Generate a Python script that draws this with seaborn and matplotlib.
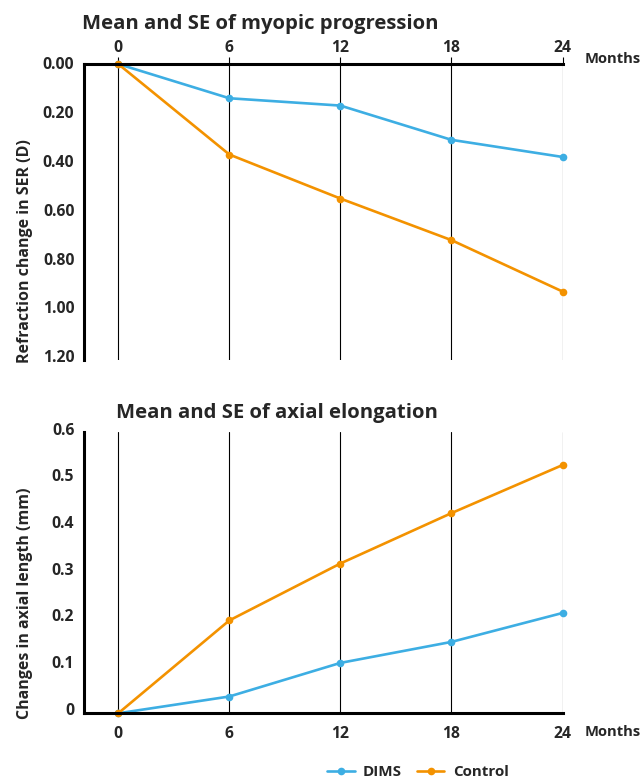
import matplotlib
matplotlib.use("Agg")
import matplotlib.pyplot as plt
import matplotlib.transforms as mtransforms
import numpy as np
import pandas as pd
import seaborn as sns

# Follow-up visits (months)
months = [0, 6, 12, 18, 24]
groups = ["DIMS", "Control"]

# Mean refraction change in SER (D), shown as positive magnitude
ser_dims = [0.00, 0.14, 0.17, 0.31, 0.38]
ser_control = [0.00, 0.37, 0.55, 0.72, 0.93]

# Mean change in axial length (mm)
al_dims = [0.00, 0.036, 0.108, 0.153, 0.215]
al_control = [0.00, 0.199, 0.321, 0.429, 0.532]

ser_ticks = [0.0, 0.2, 0.4, 0.6, 0.8, 1.0, 1.2]
ser_ticklabels = ["0.00", "0.20", "0.40", "0.60", "0.80", "1.00", "1.20"]
al_ticks = [0.0, 0.1, 0.2, 0.3, 0.4, 0.5, 0.6]
al_ticklabels = ["0", "0.1", "0.2", "0.3", "0.4", "0.5", "0.6"]

colors = {"DIMS": "#3DAEE3", "Control": "#F39200"}

sns.set_theme(style="white")
plt.rcParams["font.family"] = ["Open Sans", "DejaVu Sans"]
plt.rcParams["font.weight"] = "bold"

WEIGHT = "bold"

def long_frame(dims, control):
    return pd.DataFrame({
        "month": months * 2,
        "value": list(dims) + list(control),
        "group": ["DIMS"] * len(months) + ["Control"] * len(months),
    })

ser_df = long_frame(ser_dims, ser_control)
al_df = long_frame(al_dims, al_control)

W, H = 644, 780
fig = plt.figure(figsize=(W / 100, H / 100), dpi=100)

def px_rect(left, top, right, bottom):
    return [left / W, 1 - bottom / H, (right - left) / W, (bottom - top) / H]

ax1 = fig.add_axes(px_rect(84, 64, 562.5, 360))
ax2 = fig.add_axes(px_rect(84, 431.7, 562.5, 713.3))

line_kw = dict(x="month", y="value", hue="group", hue_order=groups,
               palette=colors, marker="o", markersize=5.5, markeredgewidth=0,
               linewidth=1.9, legend=True, clip_on=False)

sns.lineplot(data=ser_df, ax=ax1, **line_kw)
sns.lineplot(data=al_df, ax=ax2, **line_kw)

handles, labels = ax1.get_legend_handles_labels()
ax1.get_legend().remove()
ax2.get_legend().remove()

tick_fs = 11.3
for ax in (ax1, ax2):
    ax.set_xlim(-1.85, 24)
    ax.set_xticks(months)
    ax.set_xticklabels([str(m) for m in months])
    ax.grid(axis="x", color="black", linewidth=0.8)
    ax.grid(axis="y", visible=False)
    ax.set_xlabel("")
    ax.set_ylabel("")
    ax.tick_params(axis="x", length=5, width=0.8, color="black", pad=4,
                   labelsize=tick_fs)
    ax.tick_params(axis="y", length=0, pad=7, labelsize=tick_fs)
    for s in ax.spines.values():
        s.set_linewidth(2.2)
        s.set_color("black")
    ax.set_axisbelow(True)

# Upper panel: refraction, axis along the top, values growing downwards
ax1.set_ylim(1.21, 0)
ax1.set_yticks(ser_ticks)
ax1.set_yticklabels(ser_ticklabels)
ax1.xaxis.tick_top()
ax1.tick_params(axis="x", top=True, bottom=False, length=5, width=0.8, pad=1)
ax1.spines["right"].set_visible(False)
ax1.spines["bottom"].set_visible(False)

# Lower panel: axial length
ax2.set_ylim(0, 0.6035)
ax2.set_yticks(al_ticks)
ax2.set_yticklabels(al_ticklabels)
ax2.spines["right"].set_visible(False)
ax2.spines["top"].set_visible(False)

for lbl in ax2.get_yticklabels():
    lbl.set_transform(lbl.get_transform() +
                      mtransforms.ScaledTranslation(0, 4.5 / 100, fig.dpi_scale_trans))
for lbl in ax1.get_yticklabels():
    lbl.set_transform(lbl.get_transform() +
                      mtransforms.ScaledTranslation(0, 1.2 / 100, fig.dpi_scale_trans))

for lbl in ax1.get_xticklabels() + ax1.get_yticklabels() + \
        ax2.get_xticklabels() + ax2.get_yticklabels():
    lbl.set_fontweight(WEIGHT)

def fx(px):
    return px / W

def fy(py):
    return 1 - py / H

fig.text(fx(82), fy(28.5), "Mean and SE of myopic progression", fontsize=14.6,
         fontweight=WEIGHT, ha="left", va="baseline")
fig.text(fx(116), fy(418), "Mean and SE of axial elongation", fontsize=14.6,
         fontweight=WEIGHT, ha="left", va="baseline")

fig.text(fx(585), fy(59), "Months", fontsize=10.6, fontweight=WEIGHT,
         ha="left", va="center")
fig.text(fx(585), fy(732), "Months", fontsize=10.6, fontweight=WEIGHT,
         ha="left", va="center")

fig.text(fx(25), fy(251), "Refraction change in SER (D)", fontsize=11.5,
         fontweight=WEIGHT, rotation=90, ha="center", va="center")
fig.text(fx(25), fy(603.5), "Changes in axial length (mm)", fontsize=11.5,
         fontweight=WEIGHT, rotation=90, ha="center", va="center")

fig.legend(handles, labels, loc="center", bbox_to_anchor=(fx(418), fy(772)),
           ncol=2, frameon=False, handlelength=1.8,
           handletextpad=0.55, columnspacing=1.0,
           prop={"weight": WEIGHT, "size": 10.9})

fig.savefig("out.png", dpi=100)
